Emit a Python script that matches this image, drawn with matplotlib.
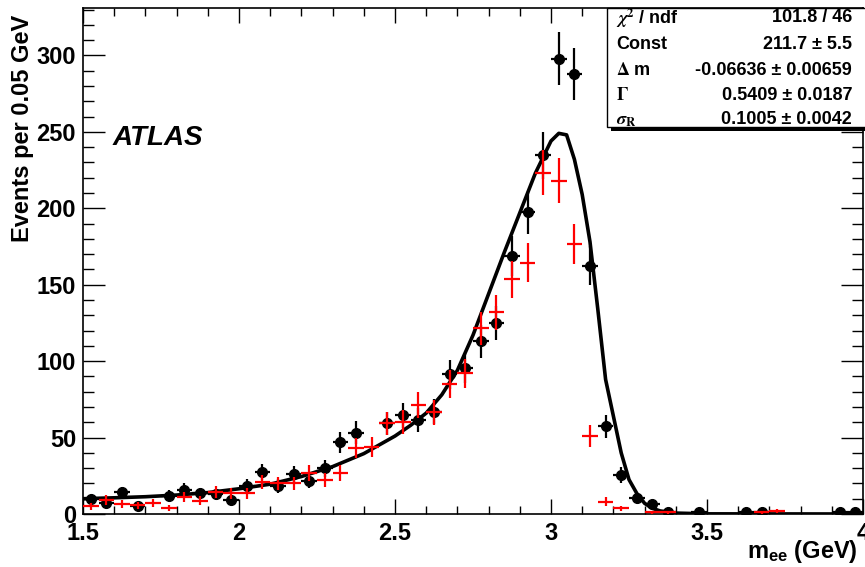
import matplotlib
matplotlib.use("Agg")
import matplotlib.pyplot as plt
from matplotlib.patches import Rectangle
from matplotlib.ticker import MultipleLocator, FormatStrFormatter
import numpy as np

plt.rcParams['font.family'] = ['Liberation Sans', 'DejaVu Sans']
plt.rcParams['font.weight'] = 'bold'
plt.rcParams['mathtext.fontset'] = 'custom'
plt.rcParams['mathtext.rm'] = 'Liberation Sans:bold'
plt.rcParams['mathtext.it'] = 'Liberation Sans:bold'
plt.rcParams['mathtext.bf'] = 'Liberation Sans:bold'

# bin centres (0.05 GeV bins from 1.5 to 4.0)
bin_centres = [1.525 + 0.05 * i for i in range(50)]
nan = np.nan

# black points (data), nan = empty bin
black_counts = [
    9.6, 7.0, 14.2, 5.5, nan, 12.0, 16.0, 13.5, 13.0, 9.2,
    18.3, 27.3, 18.3, 26.0, 21.4, 30.0, 46.8, 53.3, nan, 59.3,
    64.5, 61.2, 66.9, 91.3, 95.2, 113.0, 125.2, 168.6, 197.4, 234.6,
    297.8, 287.6, 162.5, 57.5, 25.5, 10.3, 6.5, 1.0, nan, 1.0,
    nan, nan, 1.0, 1.0, nan, nan, nan, nan, 1.0, 1.0,
]

# red crosses (simulation)
red_counts = [
    5.2, 9.1, 6.5, 5.7, 7.2, 4.1, 11.3, 8.7, 14.6, 13.5,
    13.5, 21.1, 20.0, 20.0, 26.6, 22.2, 26.6, 42.9, 44.0, 59.3,
    60.3, 71.2, 66.5, 85.0, 92.0, 121.4, 132.0, 153.4, 164.3, 223.3,
    218.0, 176.5, 51.2, 8.0, 3.6, nan, 1.0, 1.0, nan, nan,
    nan, nan, nan, 1.0, 2.0, nan, nan, nan, nan, nan,
]

# fitted curve
fit_x = [1.50, 1.60, 1.70, 1.80, 1.90, 2.00, 2.10, 2.20, 2.30, 2.40,
         2.50, 2.55, 2.60, 2.65, 2.70, 2.75, 2.80, 2.85, 2.90, 2.95,
         3.00, 3.025, 3.05, 3.075, 3.10, 3.125, 3.15, 3.175, 3.20, 3.225,
         3.25, 3.275, 3.30, 3.325, 3.35, 3.40, 3.50, 4.00]
fit_y = [10.0, 10.6, 11.3, 12.4, 14.0, 16.5, 19.5, 24.5, 31.0, 39.5,
         51.0, 58.0, 66.0, 78.0, 94.0, 117.0, 144.0, 171.0, 197.0, 223.0,
         244.0, 249.0, 248.0, 232.0, 209.0, 178.0, 134.0, 88.0, 64.0, 40.0,
         22.5, 13.5, 7.0, 3.7, 2.0, 0.6, 0.1, 0.0]

stat_names = [r'$\chi^{2}$ / ndf', 'Const', r'$\Delta$ m', r'$\Gamma$', r'$\sigma_{\mathbf{R}}$']
stat_values = ['101.8 / 46', '211.7 ± 5.5', '-0.06636 ± 0.00659', '0.5409 ± 0.0187', '0.1005 ± 0.0042']

W, H = 865, 567
fig = plt.figure(figsize=(W / 100, H / 100), dpi=100)
ax = fig.add_axes([83 / W, 53 / H, 780 / W, 506 / H])

x = np.array(bin_centres)
yb = np.array(black_counts)
yr = np.array(red_counts)

ax.errorbar(x, yb, xerr=0.025, yerr=np.sqrt(yb), fmt='o', color='black',
            markersize=7, elinewidth=1.6, capsize=0, zorder=3)
ax.plot(fit_x, fit_y, color='black', linewidth=2.6, zorder=4)
ax.errorbar(x, yr, xerr=0.025, yerr=np.sqrt(yr), fmt='none', ecolor='red',
            elinewidth=1.6, capsize=0, zorder=5)

ax.set_xlim(1.5, 4.0)
ax.set_ylim(0, 331)
ax.xaxis.set_major_locator(MultipleLocator(0.5))
ax.xaxis.set_minor_locator(MultipleLocator(0.1))
ax.yaxis.set_major_locator(MultipleLocator(50))
ax.yaxis.set_minor_locator(MultipleLocator(10))
ax.xaxis.set_major_formatter(FormatStrFormatter('%g'))
ax.tick_params(which='both', direction='in', top=True, right=True,
               labelsize=17, width=1.0)
ax.tick_params(axis='x', which='major', length=11, pad=6)
ax.tick_params(axis='x', which='minor', length=5.5)
ax.tick_params(axis='y', which='major', length=16, pad=5)
ax.tick_params(axis='y', which='minor', length=8)
for lab in ax.get_xticklabels() + ax.get_yticklabels():
    lab.set_fontweight('bold')
for sp in ax.spines.values():
    sp.set_linewidth(1.2)

fig.text(34 / W, 1 - 15 / H, 'Events per 0.05 GeV', rotation=90,
         ha='right', va='top', fontsize=17, fontweight='bold')
fig.text(858 / W, 1 - 558 / H, r'm$_{\mathrm{ee}}$ (GeV)', ha='right',
         va='baseline', fontsize=17, fontweight='bold')
fig.text(113 / W, 1 - 145 / H, 'ATLAS', ha='left', va='baseline',
         fontsize=20, fontweight='bold', style='italic')

# stats box with shadow
bx0, by0, bx1, by1 = 607, 8, 868, 127
fig.patches.append(Rectangle(((bx0 + 4) / W, 1 - (by1 + 4) / H), (bx1 - bx0) / W,
                             (by1 - by0) / H, transform=fig.transFigure,
                             facecolor='black', edgecolor='none', zorder=10))
fig.patches.append(Rectangle((bx0 / W, 1 - by1 / H), (bx1 - bx0) / W,
                             (by1 - by0) / H, transform=fig.transFigure,
                             facecolor='white', edgecolor='black',
                             linewidth=1.0, zorder=11))
row_y = [18, 44.5, 70.5, 96, 120]
for name, val, ry in zip(stat_names, stat_values, row_y):
    fig.text(616 / W, 1 - ry / H, name, ha='left', va='center', fontsize=13,
             fontweight='bold', math_fontfamily='stix', zorder=12)
    fig.text(852 / W, 1 - ry / H, val, ha='right', va='center', fontsize=13,
             fontweight='bold', zorder=12)

fig.savefig('out.png', dpi=100)
